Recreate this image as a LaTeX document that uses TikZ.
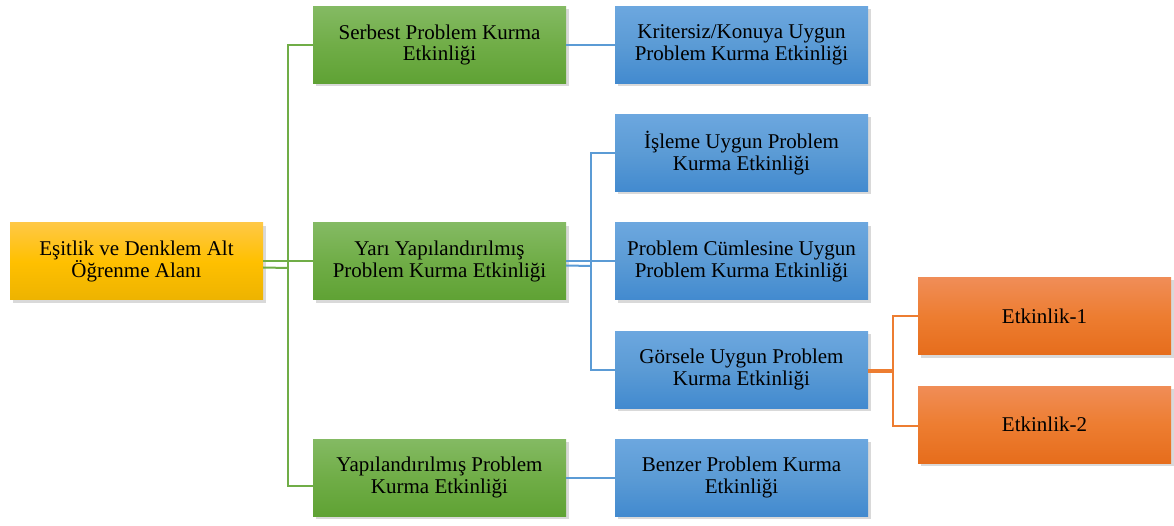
\documentclass[tikz,border=0pt]{standalone}
\usepackage{fontspec}
\setmainfont{Liberation Serif}
\usetikzlibrary{shadows}

\definecolor{altin}{HTML}{FFC000}
\definecolor{altinust}{HTML}{FFC845}
\definecolor{altinalt}{HTML}{EDB300}
\definecolor{yesil}{HTML}{70AD47}
\definecolor{yesilust}{HTML}{84BA63}
\definecolor{yesilalt}{HTML}{5FA234}
\definecolor{mavi}{HTML}{5B9BD5}
\definecolor{maviust}{HTML}{6CA7DF}
\definecolor{mavialt}{HTML}{428ACF}
\definecolor{turuncu}{HTML}{ED7D31}
\definecolor{turuncuust}{HTML}{F08D57}
\definecolor{turuncualt}{HTML}{E66D1C}

\begin{document}
\begin{tikzpicture}[x=1pt, y=-1pt,
  kutu/.style={minimum width=253pt, minimum height=77pt, align=center, inner sep=2pt,
    font=\fontsize{21}{21.5}\selectfont,
    drop shadow={shadow xshift=3pt, shadow yshift=-3pt, opacity=0.3}},
  kok/.style={kutu, top color=altinust, bottom color=altinalt, middle color=altin},
  yesilkutu/.style={kutu, top color=yesilust, bottom color=yesilalt, middle color=yesil},
  mavikutu/.style={kutu, top color=maviust, bottom color=mavialt, middle color=mavi},
  turuncukutu/.style={kutu, top color=turuncuust, bottom color=turuncualt, middle color=turuncu},
  yesilcizgi/.style={draw=yesil, line width=2pt},
  mavicizgi/.style={draw=mavi, line width=2pt},
  turuncucizgi/.style={draw=turuncu, line width=2pt}]

\useasboundingbox (0,0) rectangle (1174,526);

% ana kutu
\node[kok] (alan) at (136.5,261.5) {Eşitlik ve Denklem Alt\\Öğrenme Alanı};

% ikinci seviye
\node[yesilkutu] (serbest) at (439.5,45)    {Serbest Problem Kurma\\Etkinliği};
\node[yesilkutu] (yari)    at (439.5,261.5) {Yarı Yapılandırılmış\\Problem Kurma Etkinliği};
\node[yesilkutu] (yapi)    at (439.5,477.5) {Yapılandırılmış Problem\\Kurma Etkinliği};

% ucuncu seviye
\node[mavikutu] (kriter) at (741.5,45)    {Kritersiz/Konuya Uygun\\Problem Kurma Etkinliği};
\node[mavikutu] (islem)  at (741.5,153)   {İşleme Uygun Problem\\Kurma Etkinliği};
\node[mavikutu] (cumle)  at (741.5,261.5) {Problem Cümlesine Uygun\\Problem Kurma Etkinliği};
\node[mavikutu] (gorsel) at (741.5,369.5) {Görsele Uygun Problem\\Kurma Etkinliği};
\node[mavikutu] (benzer) at (741.5,477.5) {Benzer Problem Kurma\\Etkinliği};

% dorduncu seviye
\node[turuncukutu] (etk1) at (1044.5,316)   {Etkinlik-1};
\node[turuncukutu] (etk2) at (1044.5,424.5) {Etkinlik-2};

% baglantilar
\coordinate (ykol) at (288,268);
\draw[yesilcizgi] (alan.east) -- (yari.west);
\draw[yesilcizgi] ([yshift=-6pt]alan.east) -- (ykol);
\draw[yesilcizgi] (serbest.west) -| (ykol) |- ([yshift=-8pt]yapi.west);

\coordinate (mkol) at (591,266);
\draw[mavicizgi] (serbest.east) -- (kriter.west);
\draw[mavicizgi] (yari.east) -- (cumle.west);
\draw[mavicizgi] ([yshift=-4pt]yari.east) -- (mkol);
\draw[mavicizgi] (islem.west) -| (mkol) |- (gorsel.west);
\draw[mavicizgi] (yapi.east) -- (benzer.west);

\coordinate (tkol) at (893,371.5);
\draw[turuncucizgi] (gorsel.east) -- (gorsel.east -| tkol);
\draw[turuncucizgi] ([yshift=-2pt]gorsel.east) -- (tkol);
\draw[turuncucizgi] (etk1.west) -| (tkol) |- ([yshift=-1.5pt]etk2.west);

\end{tikzpicture}
\end{document}
